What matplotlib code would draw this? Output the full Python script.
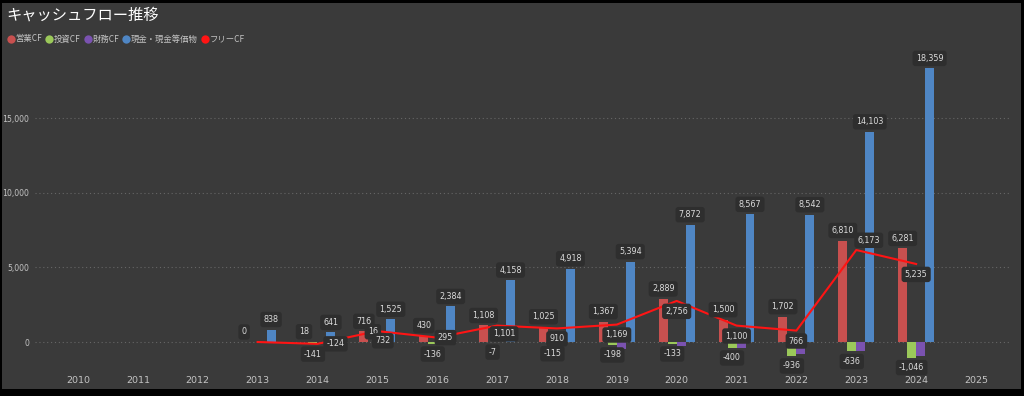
import matplotlib.pyplot as plt
import numpy as np
from matplotlib.lines import Line2D
from matplotlib.patches import Rectangle
from matplotlib.ticker import FuncFormatter

plt.rcParams['font.family'] = ['Noto Sans CJK JP', 'DejaVu Sans']

# データ（百万円）
years = list(range(2010, 2026))
data_years = list(range(2013, 2025))
eigyo_cf = [0, 18, 716, 430, 1108, 1025, 1367, 2889, 1500, 1702, 6810, 6281]
toshi_cf = [0, -141, 16, -136, -7, -115, -198, -133, -400, -936, -636, -1046]
zaimu_cf = [0, 0, -50, 580, -30, -40, -490, -290, -410, -780, -620, -960]
genkin = [838, 641, 1525, 2384, 4158, 4918, 5394, 7872, 8567, 8542, 14103, 18359]
free_cf = [0, -124, 732, 295, 1101, 910, 1169, 2756, 1100, 766, 6173, 5235]

series_names = ['営業CF', '投資CF', '財務CF', '現金・現金等価物', 'フリーCF']
bar_colors = ['#c8504f', '#9bc85a', '#7a52b0', '#4f86c4']
line_color = '#ff1414'

bg = '#3a3a3a'
box_bg = '#2e2e2e'
text_col = '#dcdcdc'

fig = plt.figure(figsize=(10.24, 3.96), dpi=100, facecolor='black')
fig.patches.append(Rectangle((2 / 1024, 1 - 389 / 396), 1019 / 1024, 386 / 396,
                             transform=fig.transFigure, facecolor=bg, edgecolor='none', zorder=-5))

ax = fig.add_axes([35 / 1024, 1 - 368 / 396, (1011 - 35) / 1024, (368 - 50) / 396])
ax.set_facecolor('none')

px = 59.87  # 1年あたりのピクセル
ax.set_xlim(2010 - 43 / px, 2025 + 35 / px)
ax.set_ylim(-26 * 67.1, 292 * 67.1)

w = 0.15
x = np.array(data_years, dtype=float)
all_bars = [eigyo_cf, toshi_cf, zaimu_cf, genkin]
for i, vals in enumerate(all_bars):
    ax.bar(x + (i - 1.5) * w, vals, width=w, color=bar_colors[i], zorder=3)

ax.plot(x, free_cf, color=line_color, lw=1.5, zorder=4)

box = dict(boxstyle='round,pad=0.4,rounding_size=0.35', fc=box_bg, ec='none')
lab_kw = dict(fontsize=5.8, color=text_col, ha='center', va='center', zorder=6, bbox=box,
              family=['DejaVu Sans'])


def fmt(v):
    return f'{v:,.0f}'


# 棒ラベル（財務CFは表示なし）
for i, vals in enumerate([eigyo_cf, toshi_cf, None, genkin]):
    if vals is None:
        continue
    for yr, v in zip(data_years, vals):
        if i == 1 and v == 0:
            continue
        off = 10 if v >= 0 else -10
        ax.annotate(fmt(v), (yr + (i - 1.5) * w, v), xytext=(0, off * 0.72),
                    textcoords='offset points', **lab_kw)

# フリーCFラベル
free_off = {2014: (13, 0), 2015: (4, -7), 2016: (6, 0), 2017: (5, -6), 2023: (9, 7)}
for yr, v in zip(data_years, free_cf):
    if yr == 2013:
        continue
    dx, dy = free_off.get(yr, (0, -7.5))
    ax.annotate(fmt(v), (yr, v), xytext=(dx, dy), textcoords='offset points', **lab_kw)

ax.set_xticks(years)
ax.set_xticklabels([str(y) for y in years])
ax.set_yticks([0, 5000, 10000, 15000])
ax.yaxis.set_major_formatter(FuncFormatter(lambda v, p: f'{v:,.0f}'))
ax.tick_params(axis='both', length=0, colors='#c4c4c4')
ax.tick_params(axis='x', pad=6, labelsize=6.8)
ax.tick_params(axis='y', pad=4, labelsize=5.6)
for lbl in ax.get_xticklabels() + ax.get_yticklabels():
    lbl.set_family(['DejaVu Sans'])
ax.grid(axis='y', color='#666666', linestyle=(0, (1, 2.5)), linewidth=0.8, zorder=0)
for s in ax.spines.values():
    s.set_visible(False)

fig.text(6 / 1024, 1 - 15 / 396, 'キャッシュフロー推移', fontsize=11, color='white',
         ha='left', va='center')

handles = [Line2D([], [], marker='o', linestyle='none', markersize=6,
                  markerfacecolor=c, markeredgecolor='none') for c in bar_colors + [line_color]]
fig.legend(handles, series_names, loc='center left', bbox_to_anchor=(1 / 1024, 1 - 39 / 396),
           ncol=5, frameon=False, fontsize=6, labelcolor='#c4c4c4', handletextpad=0.05,
           columnspacing=0.35, handlelength=1.0, borderpad=0.2)

fig.savefig('out.png', dpi=100, facecolor=fig.get_facecolor())
